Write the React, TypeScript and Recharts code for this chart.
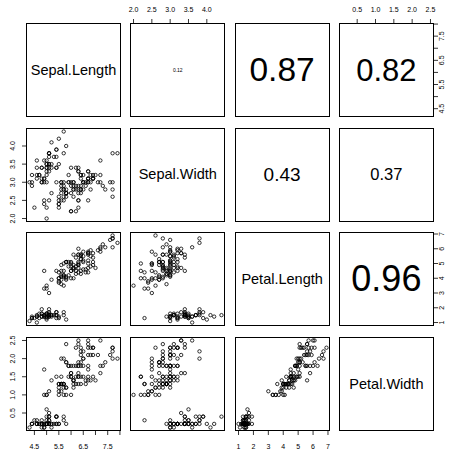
import React from 'react';
import { ScatterChart, Scatter, XAxis, YAxis } from 'recharts';

const varNames = ['Sepal.Length', 'Sepal.Width', 'Petal.Length', 'Petal.Width'];

const sepalLength = [
  5.1, 4.9, 4.7, 4.6, 5.0, 5.4, 4.6, 5.0, 4.4, 4.9, 5.4, 4.8, 4.8, 4.3, 5.8, 5.7, 5.4, 5.1, 5.7, 5.1,
  5.4, 5.1, 4.6, 5.1, 4.8, 5.0, 5.0, 5.2, 5.2, 4.7, 4.8, 5.4, 5.2, 5.5, 4.9, 5.0, 5.5, 4.9, 4.4, 5.1,
  5.0, 4.5, 4.4, 5.0, 5.1, 4.8, 5.1, 4.6, 5.3, 5.0, 7.0, 6.4, 6.9, 5.5, 6.5, 5.7, 6.3, 4.9, 6.6, 5.2,
  5.0, 5.9, 6.0, 6.1, 5.6, 6.7, 5.6, 5.8, 6.2, 5.6, 5.9, 6.1, 6.3, 6.1, 6.4, 6.6, 6.8, 6.7, 6.0, 5.7,
  5.5, 5.5, 5.8, 6.0, 5.4, 6.0, 6.7, 6.3, 5.6, 5.5, 5.5, 6.1, 5.8, 5.0, 5.6, 5.7, 5.7, 6.2, 5.1, 5.7,
  6.3, 5.8, 7.1, 6.3, 6.5, 7.6, 4.9, 7.3, 6.7, 7.2, 6.5, 6.4, 6.8, 5.7, 5.8, 6.4, 6.5, 7.7, 7.7, 6.0,
  6.9, 5.6, 7.7, 6.3, 6.7, 7.2, 6.2, 6.1, 6.4, 7.2, 7.4, 7.9, 6.4, 6.3, 6.1, 7.7, 6.3, 6.4, 6.0, 6.9,
  6.7, 6.9, 5.8, 6.8, 6.7, 6.7, 6.3, 6.5, 6.2, 5.9,
];
const sepalWidth = [
  3.5, 3.0, 3.2, 3.1, 3.6, 3.9, 3.4, 3.4, 2.9, 3.1, 3.7, 3.4, 3.0, 3.0, 4.0, 4.4, 3.9, 3.5, 3.8, 3.8,
  3.4, 3.7, 3.6, 3.3, 3.4, 3.0, 3.4, 3.5, 3.4, 3.2, 3.1, 3.4, 4.1, 4.2, 3.1, 3.2, 3.5, 3.6, 3.0, 3.4,
  3.5, 2.3, 3.2, 3.5, 3.8, 3.0, 3.8, 3.2, 3.7, 3.3, 3.2, 3.2, 3.1, 2.3, 2.8, 2.8, 3.3, 2.4, 2.9, 2.7,
  2.0, 3.0, 2.2, 2.9, 2.9, 3.1, 3.0, 2.7, 2.2, 2.5, 3.2, 2.8, 2.5, 2.8, 2.9, 3.0, 2.8, 3.0, 2.9, 2.6,
  2.4, 2.4, 2.7, 2.7, 3.0, 3.4, 3.1, 2.3, 3.0, 2.5, 2.6, 3.0, 2.6, 2.3, 2.7, 3.0, 2.9, 2.9, 2.5, 2.8,
  3.3, 2.7, 3.0, 2.9, 3.0, 3.0, 2.5, 2.9, 2.5, 3.6, 3.2, 2.7, 3.0, 2.5, 2.8, 3.2, 3.0, 3.8, 2.6, 2.2,
  3.2, 2.8, 2.8, 2.7, 3.3, 3.2, 2.8, 3.0, 2.8, 3.0, 2.8, 3.8, 2.8, 2.8, 2.6, 3.0, 3.4, 3.1, 3.0, 3.1,
  3.1, 3.1, 2.7, 3.2, 3.3, 3.0, 2.5, 3.0, 3.4, 3.0,
];
const petalLength = [
  1.4, 1.4, 1.3, 1.5, 1.4, 1.7, 1.4, 1.5, 1.4, 1.5, 1.5, 1.6, 1.4, 1.1, 1.2, 1.5, 1.3, 1.4, 1.7, 1.5,
  1.7, 1.5, 1.0, 1.7, 1.9, 1.6, 1.6, 1.5, 1.4, 1.6, 1.6, 1.5, 1.5, 1.4, 1.5, 1.2, 1.3, 1.4, 1.3, 1.5,
  1.3, 1.3, 1.3, 1.6, 1.9, 1.4, 1.6, 1.4, 1.5, 1.4, 4.7, 4.5, 4.9, 4.0, 4.6, 4.5, 4.7, 3.3, 4.6, 3.9,
  3.5, 4.2, 4.0, 4.7, 3.6, 4.4, 4.5, 4.1, 4.5, 3.9, 4.8, 4.0, 4.9, 4.7, 4.3, 4.4, 4.8, 5.0, 4.5, 3.5,
  3.8, 3.7, 3.9, 5.1, 4.5, 4.5, 4.7, 4.4, 4.1, 4.0, 4.4, 4.6, 4.0, 3.3, 4.2, 4.2, 4.2, 4.3, 3.0, 4.1,
  6.0, 5.1, 5.9, 5.6, 5.8, 6.6, 4.5, 6.3, 5.8, 6.1, 5.1, 5.3, 5.5, 5.0, 5.1, 5.3, 5.5, 6.7, 6.9, 5.0,
  5.7, 4.9, 6.7, 4.9, 5.7, 6.0, 4.8, 4.9, 5.6, 5.8, 6.1, 6.4, 5.6, 5.1, 5.6, 6.1, 5.6, 5.5, 4.8, 5.4,
  5.6, 5.1, 5.1, 5.9, 5.7, 5.2, 5.0, 5.2, 5.4, 5.1,
];
const petalWidth = [
  0.2, 0.2, 0.2, 0.2, 0.2, 0.4, 0.3, 0.2, 0.2, 0.1, 0.2, 0.2, 0.1, 0.1, 0.2, 0.4, 0.4, 0.3, 0.3, 0.3,
  0.2, 0.4, 0.2, 0.5, 0.2, 0.2, 0.4, 0.2, 0.2, 0.2, 0.2, 0.4, 0.1, 0.2, 0.2, 0.2, 0.2, 0.1, 0.2, 0.2,
  0.3, 0.3, 0.2, 0.6, 0.4, 0.3, 0.2, 0.2, 0.2, 0.2, 1.4, 1.5, 1.5, 1.3, 1.5, 1.3, 1.6, 1.0, 1.3, 1.4,
  1.0, 1.5, 1.0, 1.4, 1.3, 1.4, 1.5, 1.0, 1.5, 1.1, 1.8, 1.3, 1.5, 1.2, 1.3, 1.4, 1.4, 1.7, 1.5, 1.0,
  1.1, 1.0, 1.2, 1.6, 1.5, 1.6, 1.5, 1.3, 1.3, 1.3, 1.2, 1.4, 1.2, 1.0, 1.3, 1.2, 1.3, 1.3, 1.1, 1.3,
  2.5, 1.9, 2.1, 1.8, 2.2, 2.1, 1.7, 1.8, 1.8, 2.5, 2.0, 1.9, 2.1, 2.0, 2.4, 2.3, 1.8, 2.2, 2.3, 1.5,
  2.3, 2.0, 2.0, 1.8, 2.1, 1.8, 1.8, 1.8, 2.1, 1.6, 1.9, 2.0, 2.2, 1.5, 1.4, 2.3, 2.4, 1.8, 1.8, 2.1,
  2.4, 2.3, 1.9, 2.3, 2.5, 2.3, 1.9, 2.0, 2.3, 1.8,
];

const columns = [sepalLength, sepalWidth, petalLength, petalWidth];

// tick positions and which of them get a label (R drops overlapping ones)
const sepalLengthTicks = [4.5, 5, 5.5, 6, 6.5, 7, 7.5, 8];
const sepalLengthLabels = [4.5, 5.5, 6.5, 7.5];
const sepalWidthTicks = [2, 2.5, 3, 3.5, 4];
const petalLengthTicks = [1, 2, 3, 4, 5, 6, 7];
const petalWidthTicks = [0.5, 1, 1.5, 2, 2.5];

const axisTicks = [sepalLengthTicks, sepalWidthTicks, petalLengthTicks, petalWidthTicks];
const axisLabels = [sepalLengthLabels, sepalWidthTicks, petalLengthTicks, petalWidthTicks];
const axisDigits = [1, 1, 0, 1];

// upper triangle: absolute correlations
const corrCells = [[0, 1], [0, 2], [0, 3], [1, 2], [1, 3], [2, 3]];
const corrLabels = ['0.12', '0.87', '0.82', '0.43', '0.37', '0.96'];
const corrFontSizes = [5, 33.5, 31, 19, 16.5, 36];

const FONT = '"Liberation Sans", Arial, Helvetica, sans-serif';
const PANEL_X0 = 26;
const PANEL_Y0 = 23;
const STEP_X = 104.3;
const STEP_Y = 104.7;
const PW = 95;
const PH = 94;
const PAD = 30;

// R's pairs() pads each range by 4%
const extRange = (vals: number[]): [number, number] => {
  const lo = Math.min(...vals);
  const hi = Math.max(...vals);
  const d = (hi - lo) * 0.04;
  return [lo - d, hi + d];
};

const makeTick = (v: number, vertical: boolean) => (props: any) => {
  const { x, y, payload } = props;
  const val = payload.value;
  if (!axisLabels[v].some(l => Math.abs(l - val) < 1e-9)) return <g />;
  return (
    <text
      x={x}
      y={y}
      dy="0.35em"
      textAnchor="middle"
      fontSize={7}
      fontFamily={FONT}
      fill="#000"
      transform={vertical ? `rotate(-90 ${x} ${y})` : undefined}
    >
      {Number(val).toFixed(axisDigits[v])}
    </text>
  );
};

const dot = (props: any) => (
  <circle cx={props.cx} cy={props.cy} r={1.7} fill="none" stroke="#000" strokeWidth={0.8} />
);

const Panel = ({ row, col }: { row: number; col: number }) => {
  const n = varNames.length;
  const showTop = row === 0 && col % 2 === 1;
  const showBottom = row === n - 1 && col % 2 === 0;
  const showLeft = col === 0 && row % 2 === 1;
  const showRight = col === n - 1 && row % 2 === 0;

  const left = PANEL_X0 + col * STEP_X;
  const top = PANEL_Y0 + row * STEP_Y;

  const data =
    row > col ? columns[col].map((xv, i) => ({ x: xv, y: columns[row][i] })) : [];

  const corrIdx = corrCells.findIndex(c => c[0] === row && c[1] === col);

  return (
    <>
      <div style={{ position: 'absolute', left: left - PAD, top: top - PAD }}>
        <ScatterChart
          width={PW + 2 * PAD}
          height={PH + 2 * PAD}
          margin={{
            top: showTop ? 0 : PAD,
            bottom: showBottom ? 0 : PAD,
            left: showLeft ? 0 : PAD,
            right: showRight ? 0 : PAD,
          }}
        >
          <XAxis
            type="number"
            dataKey="x"
            domain={extRange(columns[col])}
            allowDataOverflow
            ticks={axisTicks[col]}
            interval={0}
            orientation={showTop ? 'top' : 'bottom'}
            height={PAD}
            hide={!(showTop || showBottom)}
            axisLine={false}
            tickLine={{ stroke: '#000', strokeWidth: 0.8 }}
            tickSize={4}
            tickMargin={showTop ? 9 : 12}
            tick={makeTick(col, false)}
          />
          <YAxis
            type="number"
            dataKey="y"
            domain={extRange(columns[row])}
            allowDataOverflow
            ticks={axisTicks[row]}
            interval={0}
            orientation={showRight ? 'right' : 'left'}
            width={PAD}
            hide={!(showLeft || showRight)}
            axisLine={false}
            tickLine={{ stroke: '#000', strokeWidth: 0.8 }}
            tickSize={4}
            tickMargin={showRight ? 4 : 9}
            tick={makeTick(row, true)}
          />
          <Scatter data={data} shape={dot} isAnimationActive={false} />
        </ScatterChart>
      </div>
      <div
        style={{
          position: 'absolute',
          left,
          top,
          width: PW,
          height: PH,
          border: '1px solid #000',
          boxSizing: 'border-box',
          display: 'flex',
          alignItems: 'center',
          justifyContent: 'center',
          fontFamily: FONT,
          color: '#000',
          pointerEvents: 'none',
          whiteSpace: 'nowrap',
          lineHeight: 1,
        }}
      >
        {row === col && <span style={{ fontSize: 14.5 }}>{varNames[row]}</span>}
        {corrIdx >= 0 && <span style={{ fontSize: corrFontSizes[corrIdx] }}>{corrLabels[corrIdx]}</span>}
      </div>
    </>
  );
};

export default function App() {
  const cells: { row: number; col: number }[] = [];
  varNames.forEach((_, r) => varNames.forEach((__, c) => cells.push({ row: r, col: c })));
  return (
    <div style={{ position: 'absolute', left: 0, top: 0, width: 450, height: 449, background: '#fff' }}>
      {cells.map(c => (
        <Panel key={`${c.row}-${c.col}`} row={c.row} col={c.col} />
      ))}
    </div>
  );
}
